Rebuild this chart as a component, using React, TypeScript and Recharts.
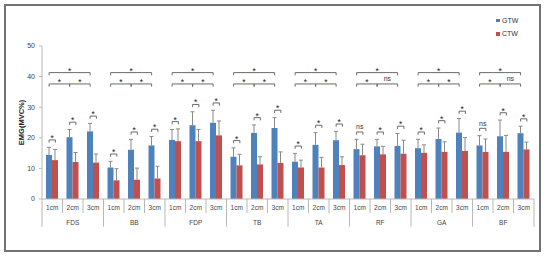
import { BarChart, Bar, XAxis, YAxis, ReferenceLine, ReferenceDot, Legend } from "recharts";

const muscles = ["FDS", "BB", "FDP", "TB", "TA", "RF", "GA", "BF"];
const distances = ["1cm", "2cm", "3cm"];
const seriesNames = ["GTW", "CTW"];

// mean EMG (MVC%) per muscle x distance
const gtw = [14.4, 20.2, 22.1, 10.3, 16.1, 17.5, 19.3, 24.1, 24.9, 13.8, 21.6, 23.2, 12.2, 17.7, 19.2, 16.3, 17.2, 17.3, 16.6, 19.6, 21.7, 17.5, 20.5, 21.5];
const gtwSd = [2.5, 2.5, 2.6, 2.0, 3.4, 2.9, 3.4, 4.4, 4.1, 2.9, 2.6, 3.4, 2.7, 4.0, 2.9, 3.2, 2.3, 4.1, 2.9, 3.6, 4.6, 3.2, 5.3, 2.3];
const ctw = [12.7, 12.1, 11.9, 6.1, 6.3, 6.7, 18.9, 18.9, 20.8, 11.0, 11.3, 11.8, 10.3, 10.3, 11.1, 14.3, 14.6, 14.8, 15.1, 15.4, 15.7, 15.4, 15.4, 16.2];
const ctwSd = [3.5, 3.1, 2.8, 3.8, 3.8, 4.0, 4.0, 3.8, 4.7, 3.6, 2.5, 3.6, 2.4, 3.3, 2.7, 3.6, 2.6, 4.4, 2.6, 3.3, 4.4, 4.2, 5.4, 2.4];

// significance marks
const pairSig = ["*", "*", "*", "*", "*", "*", "*", "*", "*", "*", "*", "*", "*", "*", "*", "ns", "*", "*", "*", "*", "*", "ns", "*", "*"];
const spanSig = ["*", "*", "*", "*", "*", "*", "*", "*"]; // 1cm vs 3cm
const stepSig = [["*", "*"], ["*", "*"], ["*", "*"], ["*", "*"], ["*", "*"], ["*", "ns"], ["*", "*"], ["*", "ns"]]; // 1-2, 2-3

const BLUE = "#4F81BD";
const RED = "#C0504D";
const FONT = "'Liberation Sans', Arial, sans-serif";

const SPAN_LEVEL = 41.3;
const STEP_LEVEL = 37.6;
const PAIR_PAD = 2.4;
const BLUE_F = 0.347; // blue bar centre inside a band (fraction)

const categories = muscles.flatMap((m) => distances.map((d) => `${m}-${d}`));
const rows = categories.map((cat, i) => ({
  cat,
  pos: i + 0.5,
  gtw: gtw[i],
  gtwSd: gtwSd[i],
  ctw: ctw[i],
  ctwSd: ctwSd[i],
}));
const xTicks = categories.flatMap((_, i) => [i, i + 0.5]).concat(categories.length);

const barWithError = (key: "gtw" | "ctw", sdKey: "gtwSd" | "ctwSd") => (p: any) => {
  const v = p.payload[key];
  const k = v ? p.height / v : 0;
  const cx = p.x + p.width / 2;
  const top = p.y - p.payload[sdKey] * k;
  return (
    <g>
      <rect x={p.x} y={p.y} width={p.width} height={p.height} fill={p.fill} />
      <line x1={cx} x2={cx} y1={p.y} y2={top} stroke="#8a8a8a" strokeWidth={1} />
      <line x1={cx - 2} x2={cx + 2} y1={top} y2={top} stroke="#8a8a8a" strokeWidth={1} />
    </g>
  );
};

const bracket = (p: any) => (
  <path
    d={`M${p.x1},${p.y1 + 2.7}V${p.y1}H${p.x2}V${p.y2 + 2.7}`}
    stroke="#6a6a6a"
    strokeWidth={1}
    fill="none"
  />
);

const sigText = (s: string) => (p: any) =>
  s === "ns" ? (
    <text x={p.cx} y={p.cy - 2.6} textAnchor="middle" fontSize={7} fill="#333" fontFamily={FONT}>
      ns
    </text>
  ) : (
    <text x={p.cx} y={p.cy + 1} textAnchor="middle" fontSize={8.5} fill="#222" fontFamily={FONT}>
      *
    </text>
  );

const XTick = (p: any) => {
  const v = p.payload.value;
  const y0 = p.y;
  if (Number.isInteger(v)) {
    const long = v % distances.length === 0;
    return <line x1={p.x} x2={p.x} y1={y0} y2={y0 + (long ? 27.7 : 14)} stroke="#b8b8b8" />;
  }
  const i = Math.floor(v);
  const d = i % distances.length;
  return (
    <g fontFamily={FONT} fill="#444" fontSize={6.5}>
      <text x={p.x} y={y0 + 11.3} textAnchor="middle">
        {distances[d]}
      </text>
      {d === 1 && (
        <text x={p.x} y={y0 + 26} textAnchor="middle">
          {muscles[Math.floor(i / distances.length)]}
        </text>
      )}
    </g>
  );
};

const LegendBox = ({ payload }: any) => {
  const items = [...(payload || [])].sort(
    (a: any, b: any) => seriesNames.indexOf(a.value) - seriesNames.indexOf(b.value)
  );
  return (
    <div style={{ fontFamily: FONT, fontSize: 7, color: "#333" }}>
      {items.map((e: any) => (
        <div key={e.value} style={{ display: "flex", alignItems: "center", height: 13.3 }}>
          <span style={{ width: 3.5, height: 3.5, background: e.color, marginRight: 2.5 }} />
          {e.value}
        </div>
      ))}
    </div>
  );
};

export default function App() {
  const pairLines = rows.map((r, i) => {
    const lvl = Math.max(r.gtw + r.gtwSd, r.ctw + r.ctwSd) + PAIR_PAD;
    return { i, lvl };
  });

  return (
    <div style={{ position: "relative", width: 550, height: 258, background: "#fff" }}>
      <style>{`body{margin:0}`}</style>
      <div
        style={{
          position: "absolute",
          left: 4,
          top: 4,
          width: 537,
          height: 248,
          border: "2px solid #727272",
          boxSizing: "border-box",
        }}
      />
      <div style={{ position: "absolute", left: 0, top: 0 }}>
        <BarChart
          width={550}
          height={258}
          data={rows}
          barGap={0}
          barSize={6}
          margin={{ top: 46, right: 16, bottom: 29, left: 22 }}
        >
          <XAxis xAxisId="cat" dataKey="cat" hide height={0} />
          <XAxis
            xAxisId="num"
            dataKey="pos"
            type="number"
            domain={[0, categories.length]}
            allowDataOverflow
            ticks={xTicks}
            interval={0}
            tick={<XTick />}
            tickLine={false}
            tickSize={0}
            tickMargin={0}
            height={30}
            axisLine={{ stroke: "#b8b8b8" }}
          />
          <YAxis
            domain={[0, 50]}
            ticks={[0, 10, 20, 30, 40, 50]}
            width={20}
            tickSize={3}
            tickMargin={4}
            axisLine={{ stroke: "#b8b8b8" }}
            tickLine={{ stroke: "#b8b8b8" }}
            tick={{ fontSize: 7, fill: "#444", fontFamily: FONT }}
            label={(props: any) => {
              const vb = props.viewBox;
              const cx = vb.x - 0.5;
              const cy = vb.y + vb.height / 2;
              return (
                <text
                  x={cx}
                  y={cy}
                  transform={`rotate(-90 ${cx} ${cy})`}
                  textAnchor="middle"
                  dominantBaseline="central"
                  fontSize={7.5}
                  fontWeight="bold"
                  fill="#222"
                  fontFamily={FONT}
                >
                  EMG(MVC%)
                </text>
              );
            }}
          />
          <Legend
            layout="horizontal"
            align="center"
            verticalAlign="middle"
            wrapperStyle={{ top: 14, left: 496, width: 40 }}
            content={<LegendBox />}
          />
          <Bar
            xAxisId="cat"
            dataKey="gtw"
            name={seriesNames[0]}
            fill={BLUE}
            isAnimationActive={false}
            shape={barWithError("gtw", "gtwSd")}
          />
          <Bar
            xAxisId="cat"
            dataKey="ctw"
            name={seriesNames[1]}
            fill={RED}
            isAnimationActive={false}
            shape={barWithError("ctw", "ctwSd")}
          />

          {pairLines.map(({ i, lvl }) => (
            <ReferenceLine
              key={`pl${i}`}
              xAxisId="num"
              segment={[
                { x: i + BLUE_F, y: lvl },
                { x: i + 1 - BLUE_F, y: lvl },
              ]}
              shape={bracket}
            />
          ))}
          {pairLines.map(({ i, lvl }) => (
            <ReferenceDot
              key={`pd${i}`}
              xAxisId="num"
              x={i + 0.5}
              y={lvl}
              shape={sigText(pairSig[i])}
            />
          ))}

          {muscles.map((m, g) => {
            const a = g * distances.length + BLUE_F;
            return [
              <ReferenceLine
                key={`sp${m}`}
                xAxisId="num"
                segment={[
                  { x: a, y: SPAN_LEVEL },
                  { x: a + 2, y: SPAN_LEVEL },
                ]}
                shape={bracket}
              />,
              <ReferenceDot key={`spd${m}`} xAxisId="num" x={a + 1} y={SPAN_LEVEL} shape={sigText(spanSig[g])} />,
              ...[0, 1].map((h) => (
                <ReferenceLine
                  key={`st${m}${h}`}
                  xAxisId="num"
                  segment={[
                    { x: a + h, y: STEP_LEVEL },
                    { x: a + h + 1, y: STEP_LEVEL },
                  ]}
                  shape={bracket}
                />
              )),
              ...[0, 1].map((h) => (
                <ReferenceDot
                  key={`std${m}${h}`}
                  xAxisId="num"
                  x={a + h + 0.5}
                  y={STEP_LEVEL}
                  shape={sigText(stepSig[g][h])}
                />
              )),
            ];
          })}
        </BarChart>
      </div>
    </div>
  );
}
